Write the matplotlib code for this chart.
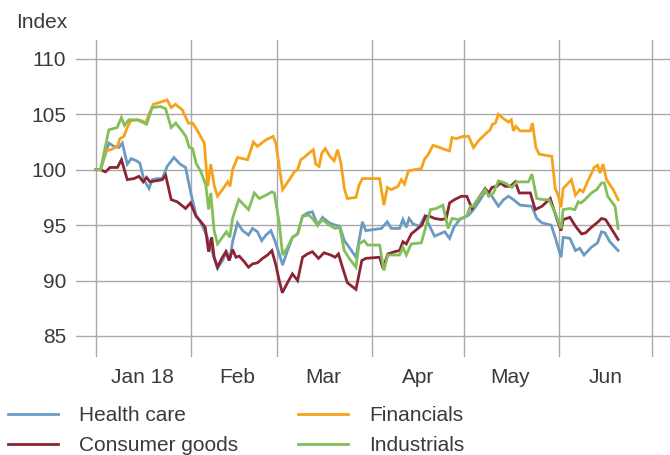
import pandas as pd
import matplotlib.pyplot as plt
from matplotlib import font_manager

# Equity sector indices, 1 Jan 2018 = 100 (x = days since 1 Jan 2018)
hc_days = [0, 1.5, 4.2, 5.9, 7.5, 8.6, 10.2, 11.5, 13.2, 14.3, 15.6, 17.3, 18.3, 20, 21.6, 23.2, 25.4,
           27.4, 29.2, 30.9, 32.6, 34.2, 36, 37.4, 39.6, 41.2, 42.5, 43.7, 44.5, 46.1, 47.8, 49.7, 51,
           52.6, 54, 55.4, 57, 58.4, 59.7, 60.8, 62.4, 64, 65.7, 67.3, 68.9, 70.5, 72.2, 73.8, 76, 77.9,
           79.4, 80.9, 82.5, 84.7, 85.7, 86.8, 87.9, 93, 94.9, 96.2, 98.9, 100, 101.1, 102, 103.3, 105.4,
           107.1, 108.7, 110.3, 113.6, 115.2, 116.6, 118.5, 121.4, 123, 125.2, 126.8, 129, 131.1, 132.8,
           134.4, 136, 138.2, 142, 143.6, 145.3, 148.3, 149.6, 151.5, 152.2, 154.4, 156.2, 157.6, 159,
           161.4, 163.4, 164.7, 165.8, 167.4, 170.1]
hc_vals = [100, 100, 102.4, 102.1, 102.0, 102.4, 100.5, 101.0, 100.8, 100.6, 99.1, 98.3, 99.1, 99.2, 99.2,
           100.3, 101.1, 100.5, 100.2, 97.9, 95.9, 95.2, 94.1, 93.0, 91.1, 91.8, 92.6, 92.0, 93.5, 95.2,
           94.5, 94.1, 94.7, 94.4, 93.6, 94.1, 94.5, 93.5, 92.4, 91.4, 92.7, 93.9, 94.2, 95.8, 96.1, 96.2,
           95.0, 95.7, 95.2, 95.0, 94.9, 93.6, 93.0, 92.1, 93.6, 95.3, 94.5, 94.7, 95.3, 94.7, 94.7, 95.5,
           94.8, 95.6, 95.1, 94.9, 95.8, 94.9, 94.0, 94.4, 93.8, 94.8, 95.5, 95.9, 96.4, 97.3, 98.0, 97.6,
           96.7, 97.3, 97.6, 97.3, 96.8, 96.7, 95.6, 95.2, 95.0, 93.9, 92.1, 93.9, 93.8, 92.7, 92.9, 92.3,
           93.0, 93.4, 94.4, 94.3, 93.5, 92.7]

cg_days = [0, 1.5, 3.1, 4.6, 7, 8.3, 10.2, 12.4, 14, 15.4, 16.5, 17.6, 21.6, 22.7, 24.5, 26.5, 29.2, 30.8,
           32.6, 34.2, 35.6, 36.7, 37.7, 38.5, 39.6, 41, 42.3, 43.4, 44.5, 45.6, 46.7, 48.3, 49.7, 51,
           52.6, 54.3, 55.9, 57.3, 58.6, 59.7, 60.7, 62.4, 64, 65.7, 67.3, 68.9, 70.5, 72.5, 74.3, 76.5,
           77.9, 79, 80.3, 81.9, 84.7, 86.6, 87.9, 92.4, 93.5, 95.1, 97.3, 98.9, 100, 101.1, 102.7, 104.9,
           106.2, 107.3, 108.7, 110.3, 112.5, 114.1, 115.2, 116.8, 119, 120.8, 122.5, 124.6, 126.8, 127.9,
           129, 130.6, 131.7, 133.3, 135, 136.6, 137.9, 141.5, 143.1, 145.3, 148, 150.1, 151.5, 152.2,
           154.4, 156.2, 158.2, 159.5, 161.4, 163.6, 164.7, 166, 167.4, 170.1]
cg_vals = [100, 100, 99.8, 100.2, 100.2, 100.9, 99.1, 99.2, 99.4, 98.9, 99.3, 98.9, 99.1, 99.5, 97.3, 97.1,
           96.5, 97.0, 95.8, 95.3, 94.8, 92.6, 93.9, 92.1, 91.2, 92.0, 92.6, 91.8, 92.8, 92.1, 92.2, 91.7,
           91.2, 91.5, 91.6, 92.0, 92.3, 92.7, 91.4, 90.0, 88.9, 89.8, 90.6, 90.0, 92.1, 92.4, 92.6, 92.0,
           92.5, 92.3, 92.1, 92.4, 91.2, 89.8, 89.2, 91.8, 92.0, 92.1, 91.1, 92.4, 92.6, 92.7, 93.5, 93.3,
           94.2, 94.7, 95.0, 95.8, 95.8, 95.6, 95.5, 95.6, 97.0, 97.3, 97.6, 97.6, 96.5, 97.4, 98.3, 97.9,
           98.4, 98.5, 98.8, 98.5, 98.5, 98.9, 97.9, 97.9, 96.4, 96.7, 97.4, 95.6, 94.5, 95.5, 95.7, 94.9,
           94.2, 94.3, 94.8, 95.3, 95.6, 95.5, 94.9, 93.7]

fin_days = [0, 1.5, 3.1, 4.8, 7, 7.8, 9.1, 10.2, 11.3, 13.5, 15.1, 16.2, 17.3, 18.7, 21.1, 23.2, 24.5, 25.9,
            28.1, 30.1, 31.5, 33.1, 35.3, 36.4, 37.4, 38.5, 39.6, 41.2, 42.9, 43.7, 44.5, 46.1, 47.8,
            49.4, 51.3, 52.6, 55.4, 57.7, 58.6, 59.7, 60.8, 63, 64.6, 65.7, 66.7, 67.8, 69.4, 70.8, 71.6,
            72.7, 73.6, 74.7, 76.2, 77.6, 78.7, 79.8, 80.9, 81.9, 84.7, 85.7, 86.8, 92.4, 93.8, 94.9,
            96.2, 98.4, 99.5, 100.5, 101.8, 103.8, 106, 107.1, 108.1, 109.8, 112, 113.8, 115.2, 116,
            117.4, 119.5, 121.4, 123, 124.6, 126.8, 128.4, 129.2, 130.1, 131.1, 132.8, 134.4, 135.3, 136,
            136.8, 138.2, 141.5, 142.2, 143.3, 144.4, 146.3, 148.5, 149.6, 150.7, 151.5, 152.2, 154.9,
            156.2, 157.6, 158.7, 160.1, 162.3, 163.4, 164.2, 165.2, 166.3, 168.5, 170.1]
fin_vals = [100, 100, 101.7, 101.8, 102.1, 102.8, 103.0, 103.8, 104.4, 104.5, 104.4, 104.2, 105.0, 105.9,
            106.1, 106.3, 105.6, 105.9, 105.4, 104.2, 104.2, 103.5, 102.4, 98.5, 100.5, 98.6, 97.6, 98.2,
            98.9, 98.5, 100.0, 101.1, 101.0, 100.9, 102.5, 102.1, 102.7, 103.0, 102.4, 100.3, 98.2, 99.1,
            99.8, 100.0, 100.9, 101.1, 101.5, 101.8, 100.5, 100.3, 101.5, 101.9, 101.2, 100.8, 101.8,
            100.6, 98.3, 97.4, 97.5, 98.6, 99.2, 99.2, 96.8, 98.4, 98.2, 98.5, 99.1, 98.7, 99.9, 100.0,
            100.1, 101.0, 101.3, 102.2, 102.0, 101.8, 101.7, 102.9, 102.8, 103.0, 103.0, 102.0, 102.6,
            103.2, 103.6, 104.1, 104.2, 105.0, 104.6, 104.3, 104.5, 103.5, 103.9, 103.5, 103.5, 104.2,
            102.0, 101.4, 101.3, 101.2, 98.3, 97.6, 96.6, 98.3, 99.1, 97.7, 98.2, 98.0, 98.9, 100.2,
            100.4, 99.7, 100.5, 99.1, 98.2, 97.3]

ind_days = [0, 1.5, 4.2, 6.9, 8.3, 9.3, 10.7, 13.5, 16.5, 18.3, 21, 22.7, 24.5, 26, 28, 29.3, 30.4, 31.5,
            32.6, 34.2, 35.8, 36.7, 37.4, 38.5, 39.6, 41.2, 42.5, 43.6, 44.5, 46.5, 48.3, 49.7, 51.6,
            53.2, 55.4, 57.3, 58.1, 59.7, 60.8, 62.4, 64, 65.7, 67.3, 69.4, 70.5, 72.2, 73.8, 76, 77.9,
            79.4, 80.9, 82.5, 84.7, 85.7, 87.4, 88.5, 92.4, 93.8, 95.1, 98.9, 100, 101.1, 102.7, 106,
            107.3, 109, 110.9, 113, 114.7, 116, 117.9, 120.8, 121.9, 123, 124.6, 126.8, 127.9, 129.5,
            131.1, 133.3, 135.5, 137.1, 140.9, 142, 143.6, 145.8, 147.6, 149.6, 151.5, 152.2, 154.4, 156,
            157.1, 158, 159.3, 161.4, 163.1, 164.7, 165.6, 166.7, 169.1, 170.1]
ind_vals = [100, 100, 103.6, 103.8, 104.7, 104.0, 104.5, 104.5, 104.1, 105.6, 105.7, 105.5, 103.8, 104.2,
            103.5, 103.0, 102.0, 101.9, 100.6, 99.8, 98.6, 96.4, 97.9, 94.5, 93.3, 93.9, 94.4, 93.9, 95.6,
            97.3, 96.8, 96.4, 97.9, 97.4, 97.7, 98.0, 97.9, 95.2, 92.3, 93.0, 93.9, 94.2, 95.8, 95.9, 95.6,
            95.0, 95.5, 95.0, 94.7, 94.8, 92.7, 92.0, 91.2, 93.3, 93.6, 93.2, 93.2, 90.9, 92.3, 92.3, 93.0,
            92.3, 93.3, 93.4, 94.7, 96.4, 96.5, 96.8, 94.7, 95.6, 95.5, 95.8, 96.7, 96.7, 97.4, 98.2, 97.6,
            97.9, 99.0, 98.8, 98.4, 98.9, 98.9, 99.6, 97.4, 97.3, 97.3, 96.1, 94.7, 96.4, 96.5, 96.4, 97.1,
            97.0, 97.3, 97.9, 98.2, 98.8, 98.8, 97.6, 96.7, 94.7]

series = [
    ("Health care", hc_days, hc_vals, "#6b9bc3"),
    ("Consumer goods", cg_days, cg_vals, "#8c2434"),
    ("Financials", fin_days, fin_vals, "#f7a21b"),
    ("Industrials", ind_days, ind_vals, "#82bf59"),
]
month_labels = ["Jan 18", "Feb", "Mar", "Apr", "May", "Jun"]

names = {f.name for f in font_manager.fontManager.ttflist}
font = "Liberation Sans" if "Liberation Sans" in names else "DejaVu Sans"
plt.rcParams["font.family"] = [font, "DejaVu Sans"]
plt.rcParams["font.size"] = 15
text_col = "#3a3a3a"
grid_col = "#a9a9a9"

base = pd.Timestamp("2018-01-01")


def to_dates(days):
    return base + pd.to_timedelta(days, unit="D")


fig = plt.figure(figsize=(6.7, 4.55), dpi=100)
ax = fig.add_axes([76 / 670, 98 / 455, 594 / 670, 317 / 455])

for name, d, v, c in series:
    ax.plot(to_dates(d), v, color=c, lw=2.0, label=name, solid_joinstyle="miter")

ax.set_ylim(83.1, 111.7)
ax.set_xlim(to_dates([-6.5])[0], to_dates([187])[0])
ax.set_yticks(range(85, 111, 5))

month_starts = pd.date_range("2018-01-01", "2018-07-01", freq="MS")
ax.set_xticks(month_starts)
ax.set_xticklabels([])
mids = month_starts[:-1] + pd.Timedelta(days=15)
ax.set_xticks(mids, minor=True)
ax.set_xticklabels(month_labels, minor=True)

ax.tick_params(axis="both", which="both", length=0, colors=text_col, labelsize=15)
ax.tick_params(axis="y", pad=7)
ax.tick_params(axis="x", which="minor", pad=8)
ax.grid(True, which="major", color=grid_col, lw=1)
ax.set_axisbelow(True)
for s in ax.spines.values():
    s.set_visible(False)

fig.text(16 / 670, 1 - 23 / 455, "Index", color=text_col, fontsize=15, va="center", ha="left")

fig.legend(loc="upper left", bbox_to_anchor=(8 / 670, 1 - 406 / 455), ncol=2, frameon=False,
           fontsize=15, labelcolor=text_col, handlelength=2.4, handletextpad=1.0,
           columnspacing=2.9, labelspacing=0.55, borderpad=0, borderaxespad=0)

fig.savefig("out.png", dpi=100)
